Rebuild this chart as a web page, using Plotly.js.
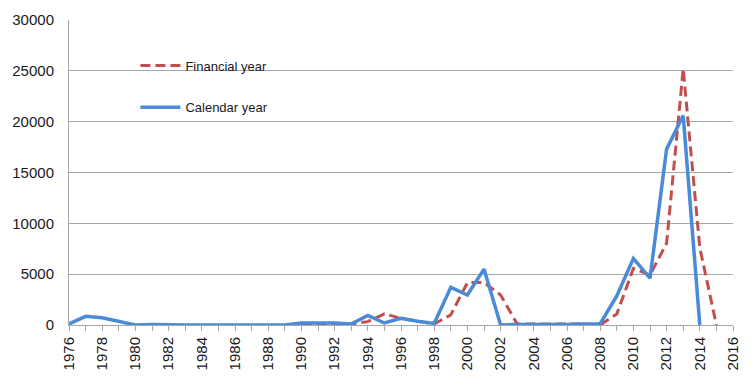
<!DOCTYPE html>
<html>
<head>
<meta charset="utf-8">
<script src="https://cdn.plot.ly/plotly-3.0.1.min.js"></script>
<style>html,body{margin:0;padding:0;background:#fff;}#chart{width:754px;height:387px;}</style>
</head>
<body>
<div id="chart"></div>
<script>
// Calendar year series
var calYears = [1976,1977,1978,1979,1980,1981,1982,1983,1984,1985,1986,1987,1988,1989,1990,1991,1992,1993,1994,1995,1996,1997,1998,1999,2000,2001,2002,2003,2004,2005,2006,2007,2008,2009,2010,2011,2012,2013,2014];
var calValues = [100,850,720,330,0,50,0,0,0,0,0,0,0,0,200,200,200,100,950,200,650,360,160,3700,2950,5500,0,50,50,0,50,100,130,2850,6550,4600,17300,20600,0];
// Financial year series
var finYears = [1990,1991,1992,1993,1994,1995,1996,1997,1998,1999,2000,2001,2002,2003,2004,2005,2006,2007,2008,2009,2010,2011,2012,2013,2014,2015];
var finValues = [100,100,50,100,330,1100,650,400,100,1000,4170,4170,2950,100,100,50,50,100,0,1080,5570,4920,8040,25200,7600,0];
var seriesNames = ['Financial year','Calendar year'];
var yTicks = [0,5000,10000,15000,20000,25000,30000];

var gray = '#a6a6a6';
var traces = [
  {x: finYears, y: finValues, name: seriesNames[0], type: 'scatter', mode: 'lines',
   line: {color: '#c0504d', width: 3, dash: '10px,5px'}, legendgroup: 'a'},
  {x: calYears, y: calValues, name: seriesNames[1], type: 'scatter', mode: 'lines',
   line: {color: '#4a8ad8', width: 3.5}, legendgroup: 'b'}
];
var layout = {
  width: 754, height: 387,
  margin: {l: 69, r: 21, t: 20, b: 62},
  paper_bgcolor: '#fff', plot_bgcolor: '#fff',
  font: {family: 'Liberation Sans, Arial, sans-serif', size: 15, color: '#1a1a1a'},
  xaxis: {
    type: 'linear', range: [1976, 2016], tick0: 1976, dtick: 2,
    tickangle: -90, ticks: 'outside', ticklen: 5, tickcolor: gray,
    showgrid: false, zeroline: false, showline: true, linecolor: gray, linewidth: 1,
    tickfont: {size: 15},
    minor: {dtick: 1, tick0: 1976, ticks: 'outside', ticklen: 5, tickcolor: gray, showgrid: false}
  },
  yaxis: {
    range: [0, 30000], tickvals: yTicks, tickformat: 'd',
    showgrid: true, gridcolor: gray, gridwidth: 1,
    zeroline: false, showline: true, linecolor: gray, linewidth: 1,
    ticks: '', ticklabelstandoff: 11, tickfont: {size: 15}
  },
  showlegend: true,
  legend: {x: 0.1, y: 0.9, xanchor: 'left', yanchor: 'top', bgcolor: 'rgba(0,0,0,0)',
           font: {size: 13, color: '#1a1a1a'}, tracegroupgap: 22, itemwidth: 40}
};
Plotly.newPlot('chart', traces, layout, {displayModeBar: false, staticPlot: true});
</script>
</body>
</html>
